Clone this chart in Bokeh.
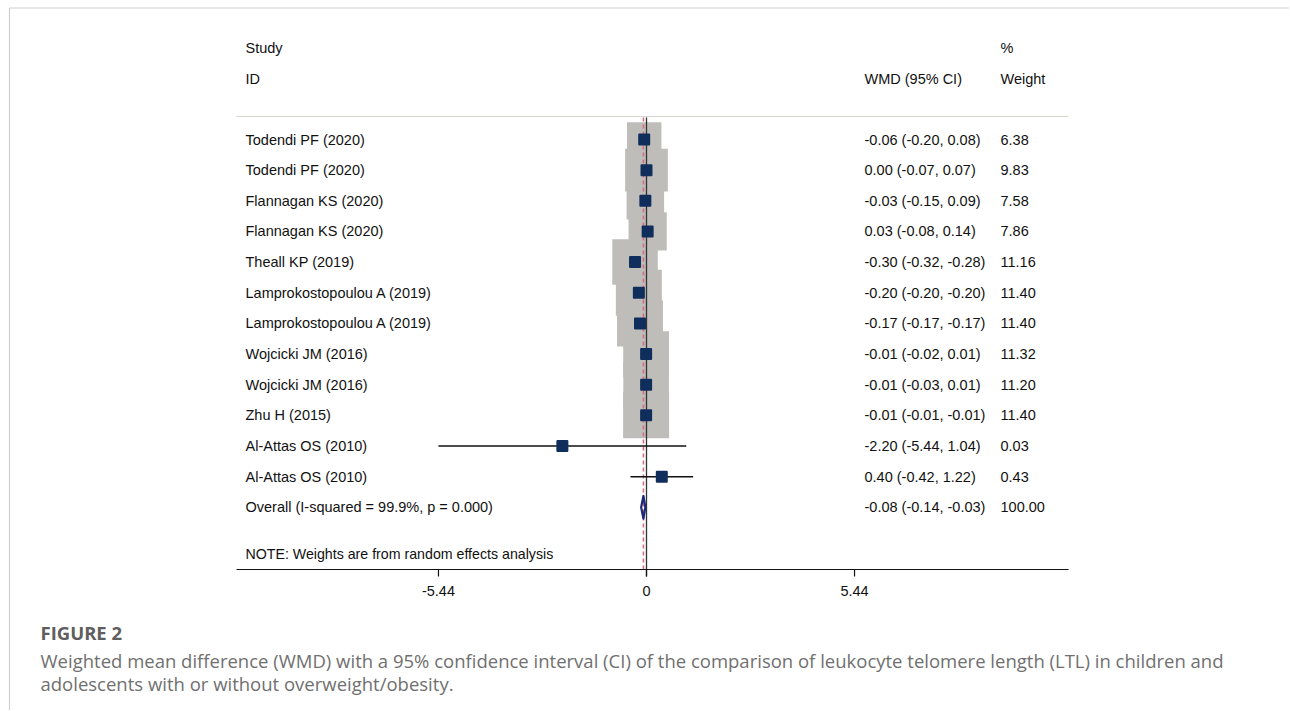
import numpy as np
from bokeh.plotting import figure
from bokeh.models import Range1d, ColumnDataSource
from bokeh.core.properties import value
from bokeh.embed import file_html
from bokeh.resources import INLINE

# ---------------- data ----------------
studies = ["Todendi PF (2020)", "Todendi PF (2020)", "Flannagan KS (2020)",
           "Flannagan KS (2020)", "Theall KP  (2019)", "Lamprokostopoulou A (2019)",
           "Lamprokostopoulou A (2019)", "Wojcicki JM (2016)", "Wojcicki JM (2016)",
           "Zhu H (2015)", "Al-Attas OS  (2010)", "Al-Attas OS  (2010)"]
est = [-0.06, 0.00, -0.03, 0.03, -0.30, -0.20, -0.17, -0.01, -0.01, -0.01, -2.20, 0.40]
ci_low = [-0.20, -0.07, -0.15, -0.08, -0.32, -0.20, -0.17, -0.02, -0.03, -0.01, -5.44, -0.42]
ci_high = [0.08, 0.07, 0.09, 0.14, -0.28, -0.20, -0.17, 0.01, 0.01, -0.01, 1.04, 1.22]
weights = [6.38, 9.83, 7.58, 7.86, 11.16, 11.40, 11.40, 11.32, 11.20, 11.40, 0.03, 0.43]

overall_label = "Overall  (I-squared = 99.9%, p = 0.000)"
overall_est = -0.08
overall_low = -0.14
overall_high = -0.03
overall_weight = 100.00

tick_values = [-5.44, 0, 5.44]
tick_labels = ["-5.44", "0", "5.44"]

note_text = "NOTE: Weights are from random effects analysis"
fig_title = "FIGURE 2"
caption_lines = [
    "Weighted mean difference (WMD) with a 95% confidence interval (CI) of the comparison of leukocyte telomere length (LTL) in children and",
    "adolescents with or without overweight/obesity.",
]

# ---------------- geometry ----------------
W, H = 1289, 710
PX = 38.24          # pixels per WMD unit
ZERO_X = 646        # page x of WMD = 0
ROW0 = 139          # page y of first study row
PITCH = 30.65       # pixels per row


def dx(page_x):
    return (page_x - ZERO_X) / PX


def dy(page_y):
    return (page_y - ROW0) / PITCH


p = figure(width=W, height=H,
           x_range=Range1d(dx(0), dx(W)),
           y_range=Range1d(dy(H), dy(0)),
           output_backend="svg", toolbar_location=None,
           x_axis_location=None, y_axis_location=None,
           min_border=0, outline_line_color=None)
p.grid.visible = False
p.background_fill_color = "white"
p.border_fill_color = "white"

FONT = value("Liberation Sans")
TXT = "#111111"
FS = "14.5px"

n = len(studies)
rows = list(range(n))
src = ColumnDataSource(dict(
    y=rows, study=studies, est=est, lo=ci_low, hi=ci_high, w=weights,
    box=[46.0 * np.sqrt(w / 11.4) for w in weights],
    wmd=[f"{e:.2f} ({l:.2f}, {h:.2f})" for e, l, h in zip(est, ci_low, ci_high)],
    wt=[f"{w:.2f}" for w in weights],
))
overall_row = n

# page frame lines
p.segment(x0=[dx(9), dx(9)], y0=[dy(7.5), dy(7.5)], x1=[dx(9), dx(1290)], y1=[dy(711), dy(7.5)],
          line_color="#cfcfcf", line_width=1.2)

# header separator
p.segment(x0=[dx(236)], y0=[dy(116)], x1=[dx(1068)], y1=[dy(116)], line_color="#d6d6ce", line_width=1)

# gray weight boxes
p.scatter(x="est", y="y", size="box", marker="square", source=src,
          fill_color="#bebdba", line_color=None)

# null line and overall dashed line
p.segment(x0=[0], y0=[dy(117)], x1=[0], y1=[dy(576)], line_color="#333333", line_width=1.3)
p.segment(x0=[overall_est], y0=[dy(117)], x1=[overall_est], y1=[dy(569)],
          line_color="#d66a7c", line_width=1.5, line_dash="4 3")

# CI lines
p.segment(x0="lo", y0="y", x1="hi", y1="y", source=src, line_color="#111111", line_width=1.5)

# point estimates
p.scatter(x="est", y="y", size=10, marker="square", source=src,
          fill_color="#102e5c", line_color="#102e5c", line_width=2, line_join="round")

# overall diamond
dh = 0.37
p.patch(x=[overall_low, overall_est, overall_high, overall_est],
        y=[overall_row, overall_row - dh, overall_row, overall_row + dh],
        fill_color=None, line_color="#1b2a7a", line_width=2.2, line_join="round")

# x axis
p.segment(x0=[dx(236)], y0=[dy(569)], x1=[dx(1068)], y1=[dy(569)], line_color="#111111", line_width=1.2)
p.segment(x0=tick_values, y0=[dy(569)] * 3, x1=tick_values, y1=[dy(576)] * 3,
          line_color="#111111", line_width=1.2)
p.text(x=tick_values, y=[dy(590)] * 3, text=tick_labels, text_font=FONT, text_font_size=FS,
       text_color=TXT, text_align="center", text_baseline="middle")

# headers
p.text(x=[dx(245), dx(245), dx(864), dx(1000), dx(1000)],
       y=[dy(47), dy(78), dy(78), dy(47), dy(78)],
       text=["Study", "ID", "WMD (95% CI)", "%", "Weight"],
       text_font=FONT, text_font_size=FS, text_color=TXT, text_baseline="middle")

# row texts
p.text(x=dx(245), y="y", text="study", source=src, text_font=FONT, text_font_size=FS,
       text_color=TXT, text_baseline="middle")
p.text(x=dx(864), y="y", text="wmd", source=src, text_font=FONT, text_font_size=FS,
       text_color=TXT, text_baseline="middle")
p.text(x=dx(1000), y="y", text="wt", source=src, text_font=FONT, text_font_size=FS,
       text_color=TXT, text_baseline="middle")

# overall row texts
p.text(x=[dx(245), dx(864), dx(1000)], y=[overall_row] * 3,
       text=[overall_label,
             f"{overall_est:.2f} ({overall_low:.2f}, {overall_high:.2f})",
             f"{overall_weight:.2f}"],
       text_font=FONT, text_font_size=FS, text_color=TXT, text_baseline="middle")

# note
p.text(x=[dx(245)], y=[dy(553)], text=[note_text], text_font=FONT, text_font_size="14.2px",
       text_color=TXT, text_baseline="middle")

# caption
p.text(x=[dx(40)], y=[dy(632)], text=[fig_title], text_font=value("Open Sans"),
       text_font_size="18.5px", text_font_style="bold", text_color="#5e5e5e",
       text_baseline="middle")
p.text(x=[dx(40), dx(40)], y=[dy(660), dy(683)], text=caption_lines,
       text_font=value("Open Sans"), text_font_size="18.5px", text_color="#707070",
       text_baseline="middle")

open("out.html", "w").write(file_html(p, INLINE))
